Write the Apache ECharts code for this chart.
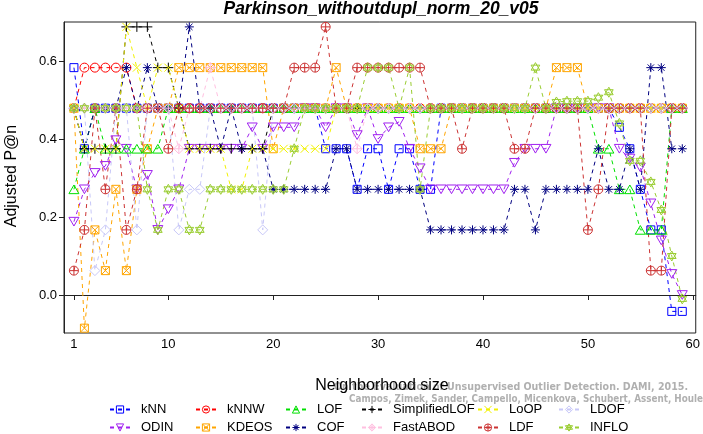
<!DOCTYPE html>
<html><head><meta charset="utf-8">
<script src="https://cdn.jsdelivr.net/npm/echarts@6/dist/echarts.min.js"></script>
<style>html,body{margin:0;padding:0;background:#fff}#c{width:703px;height:434px}</style>
</head><body><div id="c"></div>
<script>
// Neighborhood sizes
const ks = [1,2,3,4,5,6,7,8,9,10,11,12,13,14,15,16,17,18,19,20,21,22,23,24,25,26,27,28,29,30,31,32,33,34,35,36,37,38,39,40,41,42,43,44,45,46,47,48,49,50,51,52,53,54,55,56,57,58,59];
const xTicks = [1,10,20,30,40,50,60];
const yTicks = [0,0.2,0.4,0.6];

const kNN = [0.583,0.375,0.479,0.479,0.479,0.479,0.479,0.479,0.479,0.479,
 0.479,0.479,0.479,0.479,0.479,0.479,0.479,0.479,0.479,0.479,
 0.479,0.479,0.479,0.479,0.375,0.375,0.375,0.271,0.375,0.375,
 0.271,0.375,0.375,0.271,0.271,0.479,0.479,0.479,0.479,0.479,
 0.479,0.479,0.479,0.479,0.479,0.479,0.479,0.479,0.479,0.479,
 0.479,0.479,0.43,0.375,0.271,0.167,0.167,-0.042,-0.042];
const ODIN = [0.188,0.271,0.313,0.331,0.397,0.375,0.271,0.308,0.167,0.22,
 0.271,0.375,0.375,0.375,0.375,0.375,0.375,0.43,0.375,0.43,
 0.43,0.43,0.479,0.479,0.43,0.479,0.479,0.41,0.479,0.40,
 0.43,0.444,0.375,0.325,0.271,0.271,0.271,0.271,0.271,0.271,
 0.271,0.271,0.339,0.375,0.375,0.375,0.479,0.479,0.479,0.479,
 0.479,0.479,0.375,0.35,0.327,0.235,0.14,0.054,0.0];
const kNNW = [0.479,0.583,0.583,0.583,0.583,0.583,0.479,0.479,0.479,0.479,
 0.479,0.479,0.479,0.479,0.479,0.479,0.479,0.479,0.479,0.479,
 0.479,0.479,0.479,0.479,0.479,0.479,0.479,0.479,0.479,0.479,
 0.479,0.479,0.479,0.479,0.479,0.479,0.479,0.479,0.479,0.479,
 0.479,0.479,0.479,0.479,0.479,0.479,0.479,0.479,0.479,0.479,
 0.479,0.479,0.479,0.479,0.479,0.479,0.479,0.479,0.479];
const KDEOS = [0.479,-0.085,0.167,0.0625,0.271,0.0625,0.271,0.375,0.479,0.479,
 0.583,0.583,0.583,0.583,0.583,0.583,0.583,0.583,0.583,0.375,
 0.479,0.479,0.479,0.479,0.479,0.583,0.479,0.479,0.479,0.479,
 0.479,0.479,0.479,0.375,0.375,0.375,0.479,0.479,0.479,0.479,
 0.479,0.479,0.479,0.479,0.479,0.479,0.583,0.583,0.583,0.479,
 0.479,0.479,0.479,0.479,0.479,0.479,0.479,0.479,0.479];
const LOF = [0.271,0.375,0.479,0.375,0.375,0.375,0.375,0.375,0.375,0.479,
 0.479,0.479,0.479,0.479,0.479,0.479,0.479,0.479,0.479,0.479,
 0.479,0.479,0.479,0.479,0.479,0.479,0.479,0.479,0.479,0.479,
 0.479,0.479,0.479,0.479,0.479,0.479,0.479,0.479,0.479,0.479,
 0.479,0.479,0.479,0.479,0.479,0.479,0.479,0.479,0.479,0.479,
 0.375,0.375,0.271,0.271,0.167,0.167,0.167,0.479,0.479];
const COF = [0.479,0.375,0.479,0.479,0.479,0.583,0.479,0.583,0.479,0.479,
 0.479,0.6875,0.479,0.479,0.375,0.479,0.375,0.375,0.375,0.271,
 0.271,0.271,0.271,0.271,0.271,0.375,0.375,0.271,0.271,0.271,
 0.271,0.271,0.271,0.271,0.167,0.167,0.167,0.167,0.167,0.167,
 0.167,0.167,0.271,0.271,0.167,0.271,0.271,0.271,0.271,0.271,
 0.375,0.271,0.271,0.375,0.271,0.583,0.583,0.375,0.375];
const SimplifiedLOF = [0.479,0.375,0.375,0.375,0.375,0.6875,0.6875,0.6875,0.583,0.583,
 0.479,0.375,0.375,0.375,0.375,0.375,0.375,0.375,0.375,0.479,
 0.479,0.479,0.479,0.479,0.479,0.479,0.479,0.479,0.479,0.479,
 0.479,0.479,0.479,0.479,0.479,0.479,0.479,0.479,0.479,0.479,
 0.479,0.479,0.479,0.479,0.479,0.479,0.479,0.479,0.479,0.479,
 0.479,0.479,0.479,0.479,0.479,0.479,0.479,0.479,0.479];
const FastABOD = [0.479,0.479,0.479,0.479,0.479,0.479,0.479,0.479,0.479,0.479,
 0.375,0.479,0.479,0.583,0.479,0.479,0.479,0.479,0.479,0.479,
 0.479,0.479,0.479,0.479,0.479,0.479,0.479,0.375,0.479,0.479,
 0.479,0.479,0.479,0.479,0.479,0.479,0.479,0.479,0.479,0.479,
 0.479,0.479,0.479,0.479,0.479,0.479,0.479,0.479,0.479,0.479,
 0.479,0.479,0.479,0.479,0.479,0.479,0.479,0.479,0.479];
const LoOP = [0.479,0.375,0.375,0.375,0.375,0.6875,0.583,0.479,0.583,0.583,
 0.479,0.375,0.375,0.375,0.375,0.271,0.271,0.375,0.375,0.375,
 0.375,0.375,0.375,0.375,0.375,0.479,0.479,0.479,0.479,0.479,
 0.479,0.479,0.479,0.479,0.479,0.479,0.479,0.479,0.479,0.479,
 0.479,0.479,0.479,0.479,0.479,0.479,0.479,0.479,0.479,0.479,
 0.479,0.479,0.479,0.479,0.479,0.479,0.479,0.479,0.479];
const LDF = [0.0625,0.167,0.479,0.271,0.479,0.167,0.271,0.479,0.479,0.375,
 0.479,0.479,0.479,0.479,0.479,0.479,0.479,0.479,0.479,0.479,
 0.479,0.583,0.583,0.583,0.6875,0.479,0.479,0.583,0.583,0.583,
 0.583,0.583,0.583,0.583,0.479,0.479,0.479,0.375,0.479,0.479,
 0.479,0.479,0.375,0.375,0.479,0.479,0.479,0.479,0.479,0.167,
 0.271,0.479,0.479,0.479,0.479,0.0625,0.0625,0.479,0.479];
const LDOF = [0.479,0.479,0.0625,0.167,0.479,0.479,0.167,0.479,0.479,0.479,
 0.167,0.271,0.271,0.479,0.479,0.479,0.479,0.479,0.167,0.479,
 0.479,0.479,0.479,0.479,0.479,0.479,0.479,0.479,0.479,0.479,
 0.479,0.479,0.479,0.479,0.479,0.479,0.479,0.479,0.479,0.479,
 0.479,0.479,0.479,0.479,0.479,0.479,0.479,0.479,0.479,0.479,
 0.479,0.479,0.479,0.479,0.479,0.479,0.479,0.479,0.479];
const INFLO = [0.479,0.479,0.479,0.479,0.479,0.479,0.479,0.271,0.167,0.271,
 0.271,0.167,0.167,0.271,0.271,0.271,0.271,0.271,0.271,0.271,
 0.271,0.375,0.479,0.479,0.479,0.479,0.479,0.479,0.583,0.583,
 0.583,0.479,0.583,0.271,0.479,0.479,0.479,0.479,0.479,0.479,
 0.479,0.479,0.479,0.479,0.583,0.479,0.495,0.497,0.497,0.497,
 0.506,0.52,0.44,0.344,0.344,0.29,0.218,0.1,-0.01];

const seriesData = {kNN, ODIN, kNNW, KDEOS, LOF, COF, SimplifiedLOF, FastABOD, LoOP, LDF, LDOF, INFLO};
const legendColumns = [['kNN','ODIN'],['kNNW','KDEOS'],['LOF','COF'],['SimplifiedLOF','FastABOD'],['LoOP','LDF'],['LDOF','INFLO']];

const SYM = {
  square: 'path://M0,0L10,0L10,10L0,10Z',
  circle: 'path://M0,5A5,5,0,1,1,10,5A5,5,0,1,1,0,5Z',
  triUp: 'path://M5,0L10,8.66L0,8.66Z',
  plus: 'path://M5,0L5,10M0,5L10,5',
  cross: 'path://M0,0L10,10M10,0L0,10',
  diamond: 'path://M5,0L10,5L5,10L0,5Z',
  triDown: 'path://M0,0L10,0L5,8.66Z',
  sqX: 'path://M0,0L10,0L10,10L0,10ZM0,0L10,10M10,0L0,10',
  aster: 'path://M5,0L5,10M0,5L10,5M1.46,1.46L8.54,8.54M8.54,1.46L1.46,8.54',
  diaPlus: 'path://M5,0L10,5L5,10L0,5ZM5,0L5,10M0,5L10,5',
  circPlus: 'path://M0,5A5,5,0,1,1,10,5A5,5,0,1,1,0,5ZM5,0L5,10M0,5L10,5',
  star: 'path://M5,0L9.33,7.5L0.67,7.5ZM5,10L9.33,2.5L0.67,2.5Z'
};
const STYLE = {
  kNN:['#0000ff','square',8], ODIN:['#a020f0','triDown',10], kNNW:['#ff0000','circle',9],
  KDEOS:['#ffa500','sqX',8], LOF:['#00e000','triUp',10], COF:['#000080','aster',9],
  SimplifiedLOF:['#000000','plus',10], FastABOD:['#ffc0e0','diaPlus',10], LoOP:['#f2f200','cross',8],
  LDF:['#cc3333','circPlus',9], LDOF:['#c8c8f8','diamond',10], INFLO:['#9acd32','star',10]
};

const FONT = '"Liberation Sans", Arial, Helvetica, sans-serif';
const series = Object.keys(seriesData).map(name => {
  const [c, s, sz] = STYLE[name];
  return {
    name, type: 'line',
    data: ks.map((k, i) => [k, seriesData[name][i]]),
    symbol: SYM[s], symbolSize: sz, symbolKeepAspect: true,
    lineStyle: {color: c, width: 1, type: [4, 4]},
    itemStyle: {color: 'rgba(0,0,0,0)', borderColor: c, borderWidth: 1},
    emphasis: {disabled: true},
    z: 2
  };
});

const legendLeft = [109, 195, 285, 361, 477, 558];
const legends = legendColumns.map((col, i) => ({
  data: col, orient: 'vertical',
  left: legendLeft[i], top: 403, height: 40, padding: 0,
  itemWidth: 20, itemHeight: 9, itemGap: 5,
  itemStyle: {color: 'rgba(0,0,0,0)', borderWidth: 1},
  textStyle: {fontFamily: FONT, fontSize: 13, color: '#000', padding: [0, 0, 0, 6]},
  selectedMode: false
}));

const chart = echarts.init(document.getElementById('c'), null, {renderer: 'canvas'});
chart.setOption({
  animation: false,
  backgroundColor: '#fff',
  grid: {left: 64, top: 22, right: 3, bottom: 101, show: true, borderColor: '#222', borderWidth: 1, backgroundColor: 'transparent'},
  xAxis: {
    type: 'value', min: 0.053, max: 60.284,
    axisLine: {show: true, lineStyle: {color: '#222'}},
    axisTick: {show: true, length: 5, customValues: xTicks, lineStyle: {color: '#222'}},
    axisLabel: {customValues: xTicks, fontFamily: FONT, fontSize: 13, color: '#000', margin: 5},
    splitLine: {show: false}
  },
  yAxis: {
    type: 'value', min: -0.0974, max: 0.7,
    axisLine: {show: true, lineStyle: {color: '#222'}},
    axisTick: {show: true, length: 5, customValues: yTicks, lineStyle: {color: '#222'}},
    axisLabel: {customValues: yTicks, fontFamily: FONT, fontSize: 13, color: '#000', margin: 7,
      formatter: v => v.toFixed(1)},
    splitLine: {show: false}
  },
  legend: legends,
  graphic: [
    {type: 'text', x: 381, y: 9, style: {text: 'Parkinson_withoutdupl_norm_20_v05', fontFamily: FONT, fontSize: 17.5, fontWeight: 'bold', fontStyle: 'italic', fill: '#000', align: 'center', verticalAlign: 'middle'}},
    {type: 'text', x: 12, y: 176, rotation: Math.PI / 2, style: {text: 'Adjusted P@n', fontFamily: FONT, fontSize: 16, fill: '#000', align: 'center', verticalAlign: 'middle'}},
    {type: 'text', x: 688, y: 387, z: 1, scaleX: 0.95, style: {text: 'On the Evaluation of Unsupervised Outlier Detection. DAMI, 2015.', fontFamily: '"DejaVu Sans", sans-serif', fontSize: 10, fontWeight: 'bold', fill: '#b0b0b0', align: 'right', verticalAlign: 'middle'}},
    {type: 'text', x: 703, y: 399, z: 1, scaleX: 0.88, style: {text: 'Campos, Zimek, Sander, Campello, Micenkova, Schubert, Assent, Houle', fontFamily: '"DejaVu Sans", sans-serif', fontSize: 10, fontWeight: 'bold', fill: '#b0b0b0', align: 'right', verticalAlign: 'middle'}},
    {type: 'text', x: 382, y: 386, z: 5, style: {text: 'Neighborhood size', fontFamily: FONT, fontSize: 16, fill: '#000', align: 'center', verticalAlign: 'middle'}}
  ],
  series
});
</script></body></html>
